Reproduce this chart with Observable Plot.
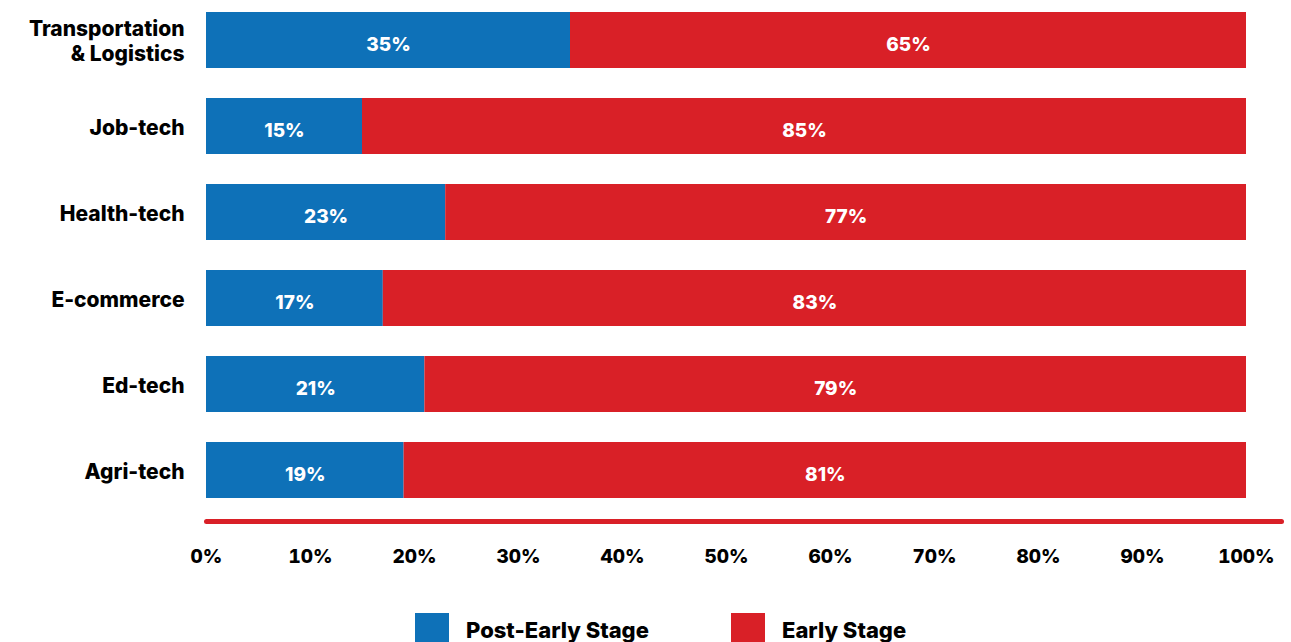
<!DOCTYPE html>
<html>
<head>
<meta charset="utf-8">
<script src="https://cdn.jsdelivr.net/npm/d3@7"></script>
<script src="https://cdn.jsdelivr.net/npm/@observablehq/plot@0.6"></script>
<style>
  html, body { margin: 0; padding: 0; background: #fff; overflow: hidden; }
  body { width: 1291px; height: 642px; position: relative; font-family: Inter, "Open Sans", sans-serif; }
  #legend { position: absolute; left: 0; top: 613px; width: 1291px; height: 40px; }
  .item { position: absolute; top: 0; display: flex; align-items: flex-start; }
  .sw { width: 34px; height: 34px; }
  .lbl { margin-left: 17px; font-size: 22px; font-weight: 800; color: #000; line-height: 34px; }
</style>
</head>
<body>
<div id="chart"></div>
<div id="legend"></div>
<script>
const categories = ["Transportation & Logistics", "Job-tech", "Health-tech", "E-commerce", "Ed-tech", "Agri-tech"];
const postEarly = [35, 15, 23, 17, 21, 19];
const early = [65, 85, 77, 83, 79, 81];
const seriesNames = ["Post-Early Stage", "Early Stage"];
const seriesColors = ["#0e71b8", "#d92027"];
const xTicks = [0, 10, 20, 30, 40, 50, 60, 70, 80, 90, 100];

const rows = [];
categories.forEach((c, i) => {
  rows.push({category: c, stage: seriesNames[0], value: postEarly[i]});
  rows.push({category: c, stage: seriesNames[1], value: early[i]});
});

const plot = Plot.plot({
  width: 1291,
  height: 600,
  marginLeft: 206,
  marginRight: 10,
  marginTop: 11,
  marginBottom: 79,
  style: {fontFamily: "Inter, 'Open Sans', sans-serif", color: "#000", background: "#fff"},
  x: {domain: [0, 100], insetRight: 35, label: null},
  y: {domain: categories, padding: 0.35, paddingOuter: 0, insetBottom: 23, label: null},
  color: {domain: seriesNames, range: seriesColors},
  marks: [
    Plot.barX(rows, Plot.stackX({x: "value", y: "category", fill: "stage", order: seriesNames})),
    Plot.text(rows, Plot.stackX({x: "value", y: "category", z: "stage", order: seriesNames,
      text: d => d.value + "%", fill: "#fff", fontSize: 19, fontWeight: 800, dy: 4})),
    Plot.frame({anchor: "bottom", stroke: "#d92027", strokeWidth: 5, strokeLinecap: "round"}),
    Plot.axisX({ticks: xTicks, tickFormat: d => d + "%", tickSize: 0, tickPadding: 28,
      fontSize: 19, fontWeight: 800, label: null}),
    Plot.axisY({tickSize: 0, tickPadding: 22, fontSize: 21, fontWeight: 800, lineHeight: 1.2, label: null,
      tickFormat: d => d === "Transportation & Logistics" ? "Transportation\n& Logistics" : d})
  ]
});
document.getElementById("chart").appendChild(plot);

const legend = document.getElementById("legend");
const lefts = [415, 731];
seriesNames.forEach((name, i) => {
  const item = document.createElement("div");
  item.className = "item";
  item.style.left = lefts[i] + "px";
  const sw = document.createElement("div");
  sw.className = "sw";
  sw.style.background = seriesColors[i];
  const lbl = document.createElement("div");
  lbl.className = "lbl";
  lbl.textContent = name;
  item.appendChild(sw);
  item.appendChild(lbl);
  legend.appendChild(item);
});
</script>
</body>
</html>
